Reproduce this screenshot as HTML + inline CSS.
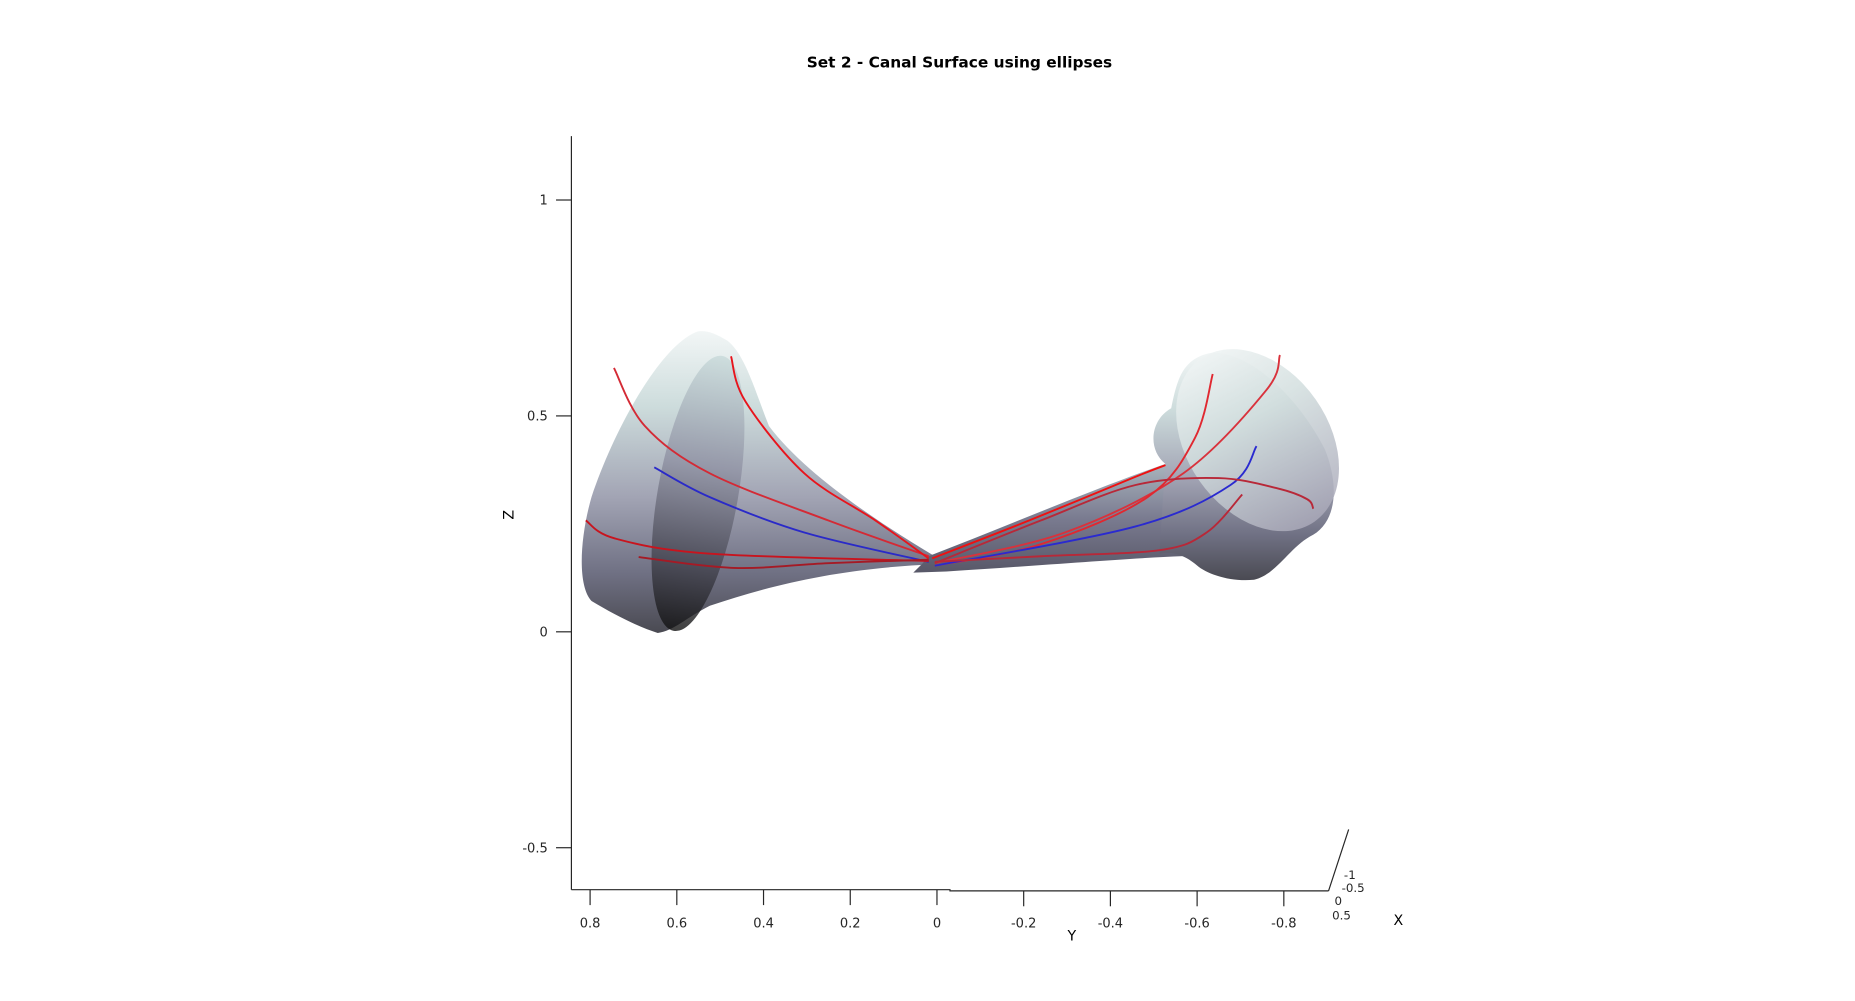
<!DOCTYPE html>
<html><head><meta charset="utf-8"><style>
html,body{margin:0;padding:0;background:#fff;}
svg{display:block;font-family:"DejaVu Sans","Liberation Sans",sans-serif;}
</style></head><body>
<svg id="chart" width="1855" height="1001" viewBox="0 0 1568 846" xmlns="http://www.w3.org/2000/svg">
<defs>
<linearGradient id="gSurf" x1="0" y1="0" x2="0" y2="1">
<stop offset="0" stop-color="#f2f6f6"/><stop offset="0.25" stop-color="#cddcdc"/><stop offset="0.55" stop-color="#a2a4b4"/><stop offset="0.8" stop-color="#707184"/><stop offset="1" stop-color="#4a4a52"/></linearGradient>
<linearGradient id="gInner" x1="0" y1="0" x2="0" y2="1">
<stop offset="0" stop-color="#c8dada"/><stop offset="0.4" stop-color="#8e90a2"/><stop offset="0.75" stop-color="#44444f"/><stop offset="1" stop-color="#111"/></linearGradient>
<linearGradient id="gRight" x1="0" y1="0" x2="0" y2="1">
<stop offset="0" stop-color="#eef3f3"/><stop offset="0.4" stop-color="#d2dede"/><stop offset="1" stop-color="#aaa9b9"/></linearGradient>
<linearGradient id="gNeck" x1="0" y1="0" x2="0" y2="1">
<stop offset="0" stop-color="#a9b4bd"/><stop offset="0.5" stop-color="#7a7b90"/><stop offset="1" stop-color="#585868"/></linearGradient>
</defs>
<text x="811" y="57" text-anchor="middle" font-size="13" font-weight="bold">Set 2 - Canal Surface using ellipses</text>

<g>
<path fill="url(#gSurf)" d="M590,280 C560,290 520,360 500,420 C490,455 488,495 500,508 C520,520 540,530 556,535 C570,533 580,522 600,512 C650,495 710,480 790,477 L790,470 C740,440 680,400 650,360 C638,330 630,300 615,288 C605,282 598,279 590,280 Z"/>
<ellipse cx="590" cy="417" rx="34" ry="118" transform="rotate(10 590 417)" fill="url(#gInner)" opacity="0.8"/>
<path fill="url(#gNeck)" d="M785,470 C850,445 920,415 985,392 L1000,470 C950,472 880,478 800,483 L772,484 L780,476 Z"/>
<path fill="url(#gSurf)" d="M985,392 C970,380 972,355 990,345 C995,320 1000,302 1025,298 C1060,298 1100,340 1120,380 C1132,410 1130,440 1110,452 C1090,462 1080,485 1060,490 C1040,492 1020,485 1012,478 C1000,468 990,466 980,468 Z"/>
<ellipse cx="1063" cy="372" rx="60" ry="84" transform="rotate(-35 1063 372)" fill="url(#gRight)" opacity="0.85"/>
</g>

<g id="axes" stroke="#262626" stroke-width="1" fill="none">
<line x1="483" y1="115" x2="483" y2="752"/>
<polyline points="483,752 803,752 803,753 1123,753"/>
<line x1="1123" y1="753" x2="1140" y2="701"/>
</g>
<g id="ticks"></g>
<g id="curves"></g>
<text x="434" y="435" font-size="12" text-anchor="middle" transform="rotate(-90 434 435)">Z</text>
<text x="906" y="795" font-size="12" text-anchor="middle">Y</text>
<text x="1182" y="782" font-size="12" text-anchor="middle">X</text>
<g font-size="10" fill="#262626">
<text x="1136" y="743">-1</text><text x="1134" y="754">-0.5</text><text x="1128" y="765">0</text><text x="1126" y="777">0.5</text>
</g>
</svg>
<script>
const zTicks=[1,0.5,0,-0.5];
const zTickLabels=["1","0.5","0","-0.5"];
const yTicks=[0.8,0.6,0.4,0.2,0,-0.2,-0.4,-0.6,-0.8];
const yTickLabels=["0.8","0.6","0.4","0.2","0","-0.2","-0.4","-0.6","-0.8"];
// curves: [y,z] data points
const red1=[[0.745,0.611],[0.674,0.477],[0.524,0.367],[0.251,0.258],[0.019,0.175]];
const red2=[[0.475,0.638],[0.442,0.534],[0.306,0.367],[0.142,0.258],[0.019,0.170]];
const blueL=[[0.652,0.381],[0.524,0.312],[0.306,0.230],[0.019,0.162]];
const red3=[[0.810,0.258],[0.742,0.216],[0.524,0.181],[0.019,0.164]];
const red4=[[0.688,0.173],[0.469,0.148],[0.251,0.159],[0.019,0.167]];
const red5=[[0.011,0.170],[-0.213,0.258],[-0.458,0.359],[-0.527,0.386]];
const red6=[[-0.791,0.641],[-0.759,0.559],[-0.568,0.367],[-0.295,0.230],[0.005,0.159]];
const red7=[[-0.636,0.597],[-0.595,0.449],[-0.486,0.312],[-0.240,0.203],[0.005,0.153]];
const blueR=[[-0.737,0.430],[-0.677,0.340],[-0.458,0.244],[0.005,0.153]];
const red8=[[0.005,0.159],[-0.240,0.258],[-0.458,0.340],[-0.649,0.356],[-0.786,0.332],[-0.854,0.307],[-0.868,0.285]];
const red9=[[-0.704,0.318],[-0.622,0.230],[-0.513,0.189],[-0.240,0.175],[0.005,0.162]];

const NS="http://www.w3.org/2000/svg";
function px(y){return 792-y*366.5;}
function pz(z){return 534-z*365;}
const tg=document.getElementById('ticks');
zTicks.forEach((v,i)=>{
 const l=document.createElementNS(NS,'line');
 l.setAttribute('x1',483);l.setAttribute('x2',470);l.setAttribute('y1',pz(v));l.setAttribute('y2',pz(v));
 l.setAttribute('stroke','#262626');
 
 
 tg.appendChild(l);
 const t=document.createElementNS(NS,'text');
 t.setAttribute('x',463);t.setAttribute('y',pz(v)+4);t.setAttribute('text-anchor','end');t.setAttribute('font-size','11');t.setAttribute('fill','#262626');
 t.textContent=zTickLabels[i];
 
 
 tg.appendChild(t);
});
yTicks.forEach((v,i)=>{
 const yb=v>=0?752:753;
 const l=document.createElementNS(NS,'line');
 l.setAttribute('x1',px(v));l.setAttribute('x2',px(v));l.setAttribute('y1',yb);l.setAttribute('y2',yb+13);
 l.setAttribute('stroke','#262626');
 
 
 tg.appendChild(l);
 const t=document.createElementNS(NS,'text');
 t.setAttribute('x',px(v));t.setAttribute('y',784);t.setAttribute('text-anchor','middle');t.setAttribute('font-size','11');t.setAttribute('fill','#262626');
 t.textContent=yTickLabels[i];
 
 
 tg.appendChild(t);
});
function smooth(pts){
 const p=pts.map(d=>[px(d[0]),pz(d[1])]);
 let s='M'+p[0][0]+','+p[0][1];
 for(let i=0;i<p.length-1;i++){
  const p0=p[i-1]||p[i],p1=p[i],p2=p[i+1],p3=p[i+2]||p2;
  const c1=[p1[0]+(p2[0]-p0[0])/6,p1[1]+(p2[1]-p0[1])/6];
  const c2=[p2[0]-(p3[0]-p1[0])/6,p2[1]-(p3[1]-p1[1])/6];
  s+=' C'+c1+' '+c2+' '+p2;
 }
 return s;
}
const cg=document.getElementById('curves');
const series=[[red1,'#d42a35','red-curve-1'],[red2,'#e8141c','red-curve-2'],[blueL,'#2a2ac8','blue-curve-left'],[red3,'#c8141e','red-curve-3'],[red4,'#a51a25','red-curve-4'],[red5,'#f01010','red-curve-5'],[red6,'#d9323c','red-curve-6'],[red7,'#e02830','red-curve-7'],[blueR,'#2a2ad0','blue-curve-right'],[red8,'#b82838','red-curve-8'],[red9,'#b82838','red-curve-9']];
series.forEach(s=>{
 const p=document.createElementNS(NS,'path');
 p.setAttribute('d',smooth(s[0]));p.setAttribute('stroke',s[1]);p.setAttribute('stroke-width','1.6');p.setAttribute('fill','none');
 
 
 cg.appendChild(p);
});
</script>
</body></html>
